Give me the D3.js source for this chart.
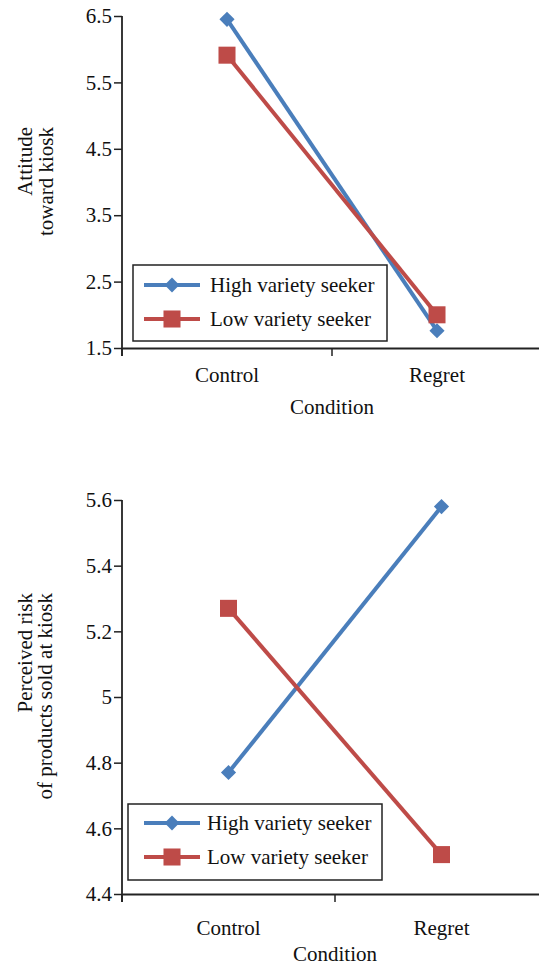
<!DOCTYPE html>
<html>
<head>
<meta charset="utf-8">
<script src="https://cdn.jsdelivr.net/npm/d3@7"></script>
<style>
  body { margin: 0; background: #fff; }
  svg { display: block; }
</style>
</head>
<body>
<svg id="chart" width="539" height="967"></svg>
<script>
// Data
const categories = ["Control", "Regret"];
const seriesNames = ["High variety seeker", "Low variety seeker"];
const attitudeHigh = [6.45, 1.76];
const attitudeLow = [5.91, 2.0];
const riskHigh = [4.77, 5.58];
const riskLow = [5.27, 4.52];
const attitudeTicks = [1.5, 2.5, 3.5, 4.5, 5.5, 6.5];
const riskTicks = [4.4, 4.6, 4.8, 5, 5.2, 5.4, 5.6];

const colors = ["#4a7ebb", "#be4b48"];
const fontSize = 21;
const font = "Liberation Serif";
const svg = d3.select("#chart");

// draws one panel: axes, lines, markers, legend
function drawPanel(cfg) {
    const g = svg.append("g");

    const x = d3.scaleBand()
        .domain(categories)
        .range(cfg.xRange);

    const y = d3.scaleLinear()
        .domain(d3.extent(cfg.ticks))
        .range([cfg.bottom, cfg.top]);

    // y axis
    const yAxis = g.append("g")
        .attr("transform", `translate(${cfg.xRange[0]},0)`)
        .call(d3.axisLeft(y).tickValues(cfg.ticks).tickSize(8).tickPadding(2)
            .tickFormat(d3.format("~g")));
    yAxis.attr("font-family", font).attr("font-size", fontSize);
    yAxis.select(".domain").remove();
    yAxis.selectAll("line").attr("stroke", "#222").attr("stroke-width", 1.5);
    yAxis.selectAll("text").attr("font-family", font).attr("font-size", fontSize).attr("fill", "#111");
    g.append("line")
        .attr("x1", cfg.xRange[0]).attr("x2", cfg.xRange[0])
        .attr("y1", y(cfg.ticks[cfg.ticks.length - 1])).attr("y2", cfg.bottom + 8)
        .attr("stroke", "#222").attr("stroke-width", 1.8);

    // x axis
    const xAxis = g.append("g")
        .attr("transform", `translate(0,${cfg.bottom})`)
        .call(d3.axisBottom(x).tickSize(0).tickPadding(cfg.labelPad));
    xAxis.attr("font-family", font).attr("font-size", fontSize);
    xAxis.select(".domain").attr("stroke", "#222").attr("stroke-width", 1.8);
    xAxis.selectAll("text").attr("font-family", font).attr("font-size", fontSize).attr("fill", "#111");
    g.selectAll(".xtick")
        .data(categories)
        .join("line")
        .attr("x1", d => x(d)).attr("x2", d => x(d))
        .attr("y1", cfg.bottom).attr("y2", cfg.bottom + 8)
        .attr("stroke", "#222").attr("stroke-width", 1.5);

    // axis titles
    g.append("text")
        .attr("x", x.range()[0] + x.bandwidth()).attr("y", cfg.titleY)
        .attr("text-anchor", "middle")
        .attr("font-family", font).attr("font-size", fontSize).attr("fill", "#111")
        .text("Condition");
    cfg.yTitle.forEach((t, i) => {
        g.append("text")
            .attr("transform", `translate(${cfg.yTitleX[i]},${cfg.yTitleTop}) rotate(-90)`)
            .attr("text-anchor", "end")
            .attr("font-family", font).attr("font-size", fontSize).attr("fill", "#111")
            .text(t);
    });

    // series
    const line = d3.line()
        .x((d, i) => x(categories[i]) + x.bandwidth() / 2)
        .y(d => y(d));
    const symbols = [
        d3.symbol().type(d3.symbolSquare).size(115),
        d3.symbol().type(d3.symbolSquare).size(290)
    ];
    const rot = [45, 0];

    cfg.series.forEach((vals, s) => {
        g.append("path")
            .datum(vals)
            .attr("fill", "none")
            .attr("stroke", colors[s])
            .attr("stroke-width", 4)
            .attr("d", line);
        g.selectAll(".m" + s)
            .data(vals)
            .join("path")
            .attr("transform", (d, i) => `translate(${x(categories[i]) + x.bandwidth() / 2},${y(d)}) rotate(${rot[s]})`)
            .attr("fill", colors[s])
            .attr("d", symbols[s]);
    });

    // legend
    const lg = g.append("g");
    lg.append("rect")
        .attr("x", cfg.legend.x).attr("y", cfg.legend.y)
        .attr("width", cfg.legend.w).attr("height", cfg.legend.h)
        .attr("fill", "#fff").attr("stroke", "#222").attr("stroke-width", 1.5);
    seriesNames.forEach((name, s) => {
        const ry = cfg.legend.rows[s];
        lg.append("line")
            .attr("x1", 144).attr("x2", 200)
            .attr("y1", ry).attr("y2", ry)
            .attr("stroke", colors[s]).attr("stroke-width", 4);
        lg.append("path")
            .attr("transform", `translate(${172},${ry}) rotate(${rot[s]})`)
            .attr("fill", colors[s])
            .attr("d", d3.symbol().type(d3.symbolSquare).size(s === 0 ? 110 : 290));
        lg.append("text")
            .attr("x", cfg.legend.textX).attr("y", ry)
            .attr("dy", "0.35em")
            .attr("font-family", font).attr("font-size", fontSize).attr("fill", "#111")
            .text(name);
    });
}

drawPanel({
    xRange: [122, 542],
    top: 16, bottom: 348,
    ticks: attitudeTicks,
    series: [attitudeHigh, attitudeLow],
    labelPad: 19,
    titleY: 414,
    yTitle: ["Attitude", "toward kiosk"],
    yTitleX: [32, 53],
    yTitleTop: 127,
    legend: { x: 133, y: 265, w: 254, h: 76, rows: [285, 319], textX: 210 }
});

drawPanel({
    xRange: [122, 548],
    top: 500, bottom: 894,
    ticks: riskTicks,
    series: [riskHigh, riskLow],
    labelPad: 26,
    titleY: 961,
    yTitle: ["Perceived risk", "of products sold at kiosk"],
    yTitleX: [32, 52],
    yTitleTop: 593,
    legend: { x: 128, y: 804, w: 254, h: 76, rows: [823, 857], textX: 207 }
});
</script>
</body>
</html>
